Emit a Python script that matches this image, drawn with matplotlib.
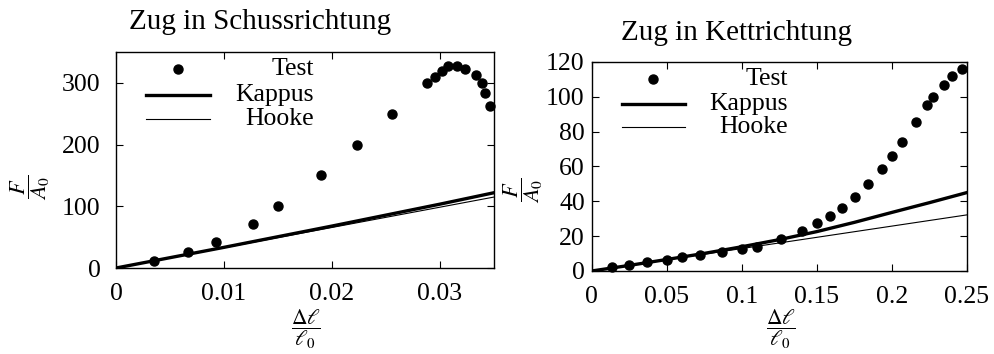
import matplotlib
matplotlib.use("Agg")
import matplotlib.pyplot as plt
from matplotlib.ticker import FormatStrFormatter

# ---- data ----
# Zug in Schussrichtung
schuss_test_x = [0.0035, 0.0067, 0.0093, 0.0127, 0.0150, 0.0190, 0.0223, 0.0256,
                 0.0288, 0.0295, 0.0302, 0.0307, 0.0316, 0.0323, 0.0333, 0.0339,
                 0.0342, 0.0346]
schuss_test_y = [11, 26, 42, 71, 100, 150, 199, 250,
                 300, 310, 320, 327, 328, 323, 312, 300,
                 283, 262]
schuss_kappus_x = [0, 0.01, 0.02, 0.03, 0.035]
schuss_kappus_y = [0, 33.5, 68, 103.5, 122]
schuss_hooke_x = [0, 0.035]
schuss_hooke_y = [0, 115]

# Zug in Kettrichtung
kett_test_x = [0.0136, 0.0251, 0.0369, 0.0502, 0.0604, 0.0724, 0.0871, 0.1004,
               0.1100, 0.1260, 0.1402, 0.1500, 0.1589, 0.1671, 0.1758, 0.1842,
               0.1936, 0.2002, 0.2067, 0.2160, 0.2236, 0.2278, 0.2347, 0.2402,
               0.2471]
kett_test_y = [2.5, 3.3, 5.2, 6.5, 8.0, 9.0, 10.7, 12.8,
               14.0, 18.6, 23.2, 27.4, 31.6, 36.4, 42.7, 49.8,
               58.8, 66.3, 73.8, 85.7, 95.1, 100.1, 106.8, 112.1,
               116.2]
kett_kappus_x = [0, 0.025, 0.05, 0.075, 0.1, 0.125, 0.15, 0.175, 0.2, 0.225, 0.25]
kett_kappus_y = [0, 3.2, 6.6, 10.1, 13.9, 18.0, 22.6, 27.9, 33.6, 39.2, 45.0]
kett_hooke_x = [0, 0.25]
kett_hooke_y = [0, 32.2]

FS = 18.5

plt.rcParams.update({
    "font.family": "Liberation Serif",
    "mathtext.fontset": "stix",
    "font.size": FS,
    "axes.linewidth": 1.0,
    "xtick.direction": "in",
    "ytick.direction": "in",
    "xtick.top": True,
    "ytick.right": True,
    "xtick.major.size": 5,
    "ytick.major.size": 5,
})

fig = plt.figure(figsize=(9.95, 3.54), dpi=100)
ax1 = fig.add_axes([0.1166, 0.2429, 0.3799, 0.6102])
ax2 = fig.add_axes([0.5947, 0.2345, 0.3769, 0.5904])


def draw_panel(ax, tx, ty, kx, ky, hx, hy, xlim, ylim, xticks, yticks, ypad):
    ax.plot(hx, hy, color="black", lw=0.8, zorder=2)
    ax.plot(kx, ky, color="black", lw=2.4, zorder=3)
    ax.plot(tx, ty, "o", color="black", ms=6.5, zorder=4, clip_on=False)
    ax.set_xlim(*xlim)
    ax.set_ylim(*ylim)
    ax.set_xticks(xticks)
    ax.set_yticks(yticks)
    ax.xaxis.set_major_formatter(FormatStrFormatter("%g"))
    ax.yaxis.set_major_formatter(FormatStrFormatter("%g"))
    ax.tick_params(axis="x", pad=11, labelsize=FS)
    ax.tick_params(axis="y", pad=ypad, labelsize=FS)

    # gnuplot-like key, text right-aligned
    tr = ax.transAxes
    ax.plot([0.163], [0.92], "o", color="black", ms=6.5, transform=tr)
    ax.plot([0.08, 0.248], [0.80, 0.80], color="black", lw=2.4, transform=tr)
    ax.plot([0.08, 0.248], [0.69, 0.69], color="black", lw=0.8, transform=tr)
    for lab, y in [("Test", 0.92), ("Kappus", 0.80), ("Hooke", 0.69)]:
        ax.text(0.524, y, lab, transform=tr, ha="right", va="center", fontsize=FS)


draw_panel(ax1, schuss_test_x, schuss_test_y, schuss_kappus_x, schuss_kappus_y,
           schuss_hooke_x, schuss_hooke_y, (0, 0.035), (0, 350),
           [0, 0.01, 0.02, 0.03], [0, 100, 200, 300], 11)
draw_panel(ax2, kett_test_x, kett_test_y, kett_kappus_x, kett_kappus_y,
           kett_hooke_x, kett_hooke_y, (0, 0.25), (0, 120),
           [0, 0.05, 0.1, 0.15, 0.2, 0.25], [0, 20, 40, 60, 80, 100, 120], 5)

# titles
fig.text(0.2613, 1 - 22 / 354, "Zug in Schussrichtung", ha="center", va="center", fontsize=21)
fig.text(0.740, 1 - 33 / 354, "Zug in Kettrichtung", ha="center", va="center", fontsize=21)

# axis labels
ylab = r"$\dfrac{F}{A_0}$"
xlab = r"$\dfrac{\Delta\ell}{\ell_0}$"
fig.text(30 / 995, 1 - 187 / 354, ylab, rotation=90, ha="center", va="center", fontsize=16)
fig.text(523 / 995, 1 - 190 / 354, ylab, rotation=90, ha="center", va="center", fontsize=16)
fig.text(306 / 995, 1 - 329 / 354, xlab, ha="center", va="center", fontsize=15.5)
fig.text(781 / 995, 1 - 329 / 354, xlab, ha="center", va="center", fontsize=15.5)

fig.savefig("out.png", dpi=100)
